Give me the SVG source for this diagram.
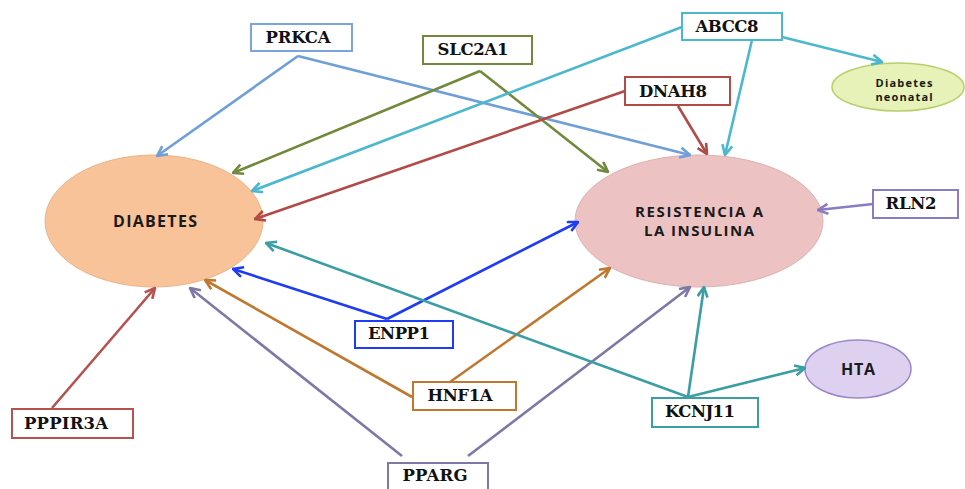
<svg xmlns="http://www.w3.org/2000/svg" width="965" height="489" viewBox="0 0 965 489">
<style>
.box{fill:#fff;stroke-width:2}
.bt{font-family:"DejaVu Serif","Liberation Serif",serif;font-weight:bold;font-size:16.5px;fill:#111;text-anchor:middle}
.et{font-family:"Open Sans","Liberation Sans",sans-serif;font-weight:bold;fill:#1a1a1a;text-anchor:middle}
.c{fill:none;stroke-width:2.6}
</style>
<defs>
<marker id="mBlue" viewBox="0 0 12 12" refX="11" refY="6" markerWidth="12" markerHeight="12" markerUnits="userSpaceOnUse" orient="auto"><path d="M1,1 L11,6 L1,11" fill="none" stroke="#6f9fd8" stroke-width="2.6"/></marker>
<marker id="mOlive" viewBox="0 0 12 12" refX="11" refY="6" markerWidth="12" markerHeight="12" markerUnits="userSpaceOnUse" orient="auto"><path d="M1,1 L11,6 L1,11" fill="none" stroke="#72893c" stroke-width="2.6"/></marker>
<marker id="mCyan" viewBox="0 0 12 12" refX="11" refY="6" markerWidth="12" markerHeight="12" markerUnits="userSpaceOnUse" orient="auto"><path d="M1,1 L11,6 L1,11" fill="none" stroke="#4cb8cf" stroke-width="2.6"/></marker>
<marker id="mRed" viewBox="0 0 12 12" refX="11" refY="6" markerWidth="12" markerHeight="12" markerUnits="userSpaceOnUse" orient="auto"><path d="M1,1 L11,6 L1,11" fill="none" stroke="#b14b48" stroke-width="2.6"/></marker>
<marker id="mEnpp" viewBox="0 0 12 12" refX="11" refY="6" markerWidth="12" markerHeight="12" markerUnits="userSpaceOnUse" orient="auto"><path d="M1,1 L11,6 L1,11" fill="none" stroke="#1f3cf5" stroke-width="2.6"/></marker>
<marker id="mOrange" viewBox="0 0 12 12" refX="11" refY="6" markerWidth="12" markerHeight="12" markerUnits="userSpaceOnUse" orient="auto"><path d="M1,1 L11,6 L1,11" fill="none" stroke="#c0782f" stroke-width="2.6"/></marker>
<marker id="mPurple" viewBox="0 0 12 12" refX="11" refY="6" markerWidth="12" markerHeight="12" markerUnits="userSpaceOnUse" orient="auto"><path d="M1,1 L11,6 L1,11" fill="none" stroke="#7f77a6" stroke-width="2.6"/></marker>
<marker id="mPink" viewBox="0 0 12 12" refX="11" refY="6" markerWidth="12" markerHeight="12" markerUnits="userSpaceOnUse" orient="auto"><path d="M1,1 L11,6 L1,11" fill="none" stroke="#b5514f" stroke-width="2.6"/></marker>
<marker id="mTeal" viewBox="0 0 12 12" refX="11" refY="6" markerWidth="12" markerHeight="12" markerUnits="userSpaceOnUse" orient="auto"><path d="M1,1 L11,6 L1,11" fill="none" stroke="#3b9ea4" stroke-width="2.6"/></marker>
<marker id="mLav" viewBox="0 0 12 12" refX="11" refY="6" markerWidth="12" markerHeight="12" markerUnits="userSpaceOnUse" orient="auto"><path d="M1,1 L11,6 L1,11" fill="none" stroke="#8a7cc0" stroke-width="2.6"/></marker>
</defs>
<rect width="965" height="489" fill="#fff"/>

<g id="diabetes">
<ellipse cx="154" cy="221" rx="109" ry="66" fill="#f8c398" stroke="#e9b48a" stroke-width="1"/>
<text class="et" x="155" y="227" font-size="16" textLength="84" lengthAdjust="spacing">DIABETES</text>
</g>
<g id="resistencia">
<ellipse cx="699" cy="221" rx="124" ry="66" fill="#ecc3c2" stroke="#dcb2b1" stroke-width="1"/>
<text class="et" x="699" y="217" font-size="15" textLength="128" lengthAdjust="spacing">RESISTENCIA A</text>
<text class="et" x="699" y="236" font-size="15" textLength="110" lengthAdjust="spacing">LA INSULINA</text>
</g>
<g id="neonatal">
<ellipse cx="898" cy="87" rx="66" ry="24" fill="#e6f2b8" stroke="#b7cf6c" stroke-width="1.5"/>
<text class="et" x="904" y="87" font-size="11" textLength="57" lengthAdjust="spacing">Diabetes</text>
<text class="et" x="904" y="101" font-size="11" textLength="57" lengthAdjust="spacing">neonatal</text>
</g>
<g id="hta">
<ellipse cx="858" cy="369" rx="53" ry="29" fill="#ddd1ef" stroke="#9b88c8" stroke-width="1.5"/>
<text class="et" x="858" y="375" font-size="16" textLength="34" lengthAdjust="spacing">HTA</text>
</g>

<g id="connectors">
<path class="c" stroke="#6f9fd8" d="M298,56 L157,156" marker-end="url(#mBlue)"/>
<path class="c" stroke="#6f9fd8" d="M298,56 L690,155" marker-end="url(#mBlue)"/>
<path class="c" stroke="#72893c" d="M480,71 L233,173" marker-end="url(#mOlive)"/>
<path class="c" stroke="#72893c" d="M480,71 L608,172" marker-end="url(#mOlive)"/>
<path class="c" stroke="#4cb8cf" d="M682,27 L252,191" marker-end="url(#mCyan)"/>
<path class="c" stroke="#4cb8cf" d="M752,40 L725,155" marker-end="url(#mCyan)"/>
<path class="c" stroke="#4cb8cf" d="M782,37 L882,62" marker-end="url(#mCyan)"/>
<path class="c" stroke="#b14b48" d="M625,91 L255,219" marker-end="url(#mRed)"/>
<path class="c" stroke="#b14b48" d="M678,106 L707,154" marker-end="url(#mRed)"/>
<path class="c" stroke="#1f3cf5" d="M387,319 L233,269" marker-end="url(#mEnpp)"/>
<path class="c" stroke="#1f3cf5" d="M387,319 L578,222" marker-end="url(#mEnpp)"/>
<path class="c" stroke="#c0782f" d="M412,397 L205,280" marker-end="url(#mOrange)"/>
<path class="c" stroke="#c0782f" d="M450,382 L610,268" marker-end="url(#mOrange)"/>
<path class="c" stroke="#7f77a6" d="M402,456 L190,288" marker-end="url(#mPurple)"/>
<path class="c" stroke="#7f77a6" d="M468,456 L690,287" marker-end="url(#mPurple)"/>
<path class="c" stroke="#b5514f" d="M52,408 L155,288" marker-end="url(#mPink)"/>
<path class="c" stroke="#3b9ea4" d="M688,397 L266,243" marker-end="url(#mTeal)"/>
<path class="c" stroke="#3b9ea4" d="M688,397 L704,287" marker-end="url(#mTeal)"/>
<path class="c" stroke="#3b9ea4" d="M688,397 L805,368" marker-end="url(#mTeal)"/>
<path class="c" stroke="#8a7cc0" d="M873,204 L818,210" marker-end="url(#mLav)"/>
</g>

<g id="prkca"><rect class="box" x="251" y="24" width="101" height="27" stroke="#7ba3dc"/><text class="bt" x="298" y="43" textLength="65" lengthAdjust="spacing">PRKCA</text></g>
<g id="slc2a1"><rect class="box" x="423" y="36" width="109" height="28" stroke="#72893c"/><text class="bt" x="473" y="55" textLength="71" lengthAdjust="spacing">SLC2A1</text></g>
<g id="abcc8"><rect class="box" x="682" y="13" width="100" height="27" stroke="#4cb8cf"/><text class="bt" x="727" y="32" textLength="63" lengthAdjust="spacing">ABCC8</text></g>
<g id="dnah8"><rect class="box" x="625" y="77" width="105" height="28" stroke="#b14b48"/><text class="bt" x="673" y="97" textLength="68" lengthAdjust="spacing">DNAH8</text></g>
<g id="rln2"><rect class="box" x="873" y="190" width="85" height="28" stroke="#8a7cc0"/><text class="bt" x="911" y="209" textLength="51" lengthAdjust="spacing">RLN2</text></g>
<g id="enpp1"><rect class="box" x="355" y="321" width="98" height="27" stroke="#1f3cf5"/><text class="bt" x="399" y="339" textLength="62" lengthAdjust="spacing">ENPP1</text></g>
<g id="hnf1a"><rect class="box" x="413" y="382" width="103" height="28" stroke="#c0782f"/><text class="bt" x="460" y="401" textLength="65" lengthAdjust="spacing">HNF1A</text></g>
<g id="pparg"><rect class="box" x="388" y="463" width="100" height="30" stroke="#7f77a6"/><text class="bt" x="435" y="481" textLength="65" lengthAdjust="spacing">PPARG</text></g>
<g id="pppir3a"><rect class="box" x="12" y="409" width="121" height="29" stroke="#b5514f"/><text class="bt" x="66" y="429" textLength="84" lengthAdjust="spacing">PPPIR3A</text></g>
<g id="kcnj11"><rect class="box" x="652" y="398" width="106" height="29" stroke="#3b9ea4"/><text class="bt" x="700" y="417" textLength="70" lengthAdjust="spacing">KCNJ11</text></g>
</svg>
